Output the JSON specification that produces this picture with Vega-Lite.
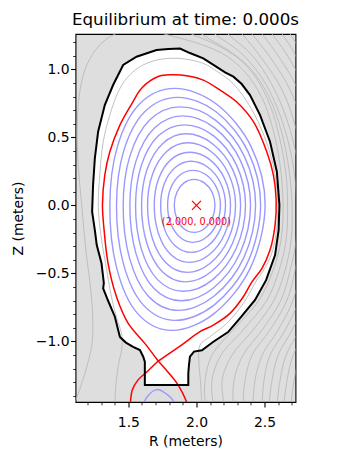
{
"$schema":"https://vega.github.io/schema/vega-lite/v6.json",
"width":220,"height":368,
"autosize":"none",
"padding":{"left":75.5,"top":34,"right":57.5,"bottom":50},
"background":"white",
"title":{"text":"Equilibrium at time: 0.000s","font":"DejaVu Sans","fontSize":16.7,"fontWeight":"normal","color":"black","anchor":"middle","baseline":"alphabetic","offset":-7.5},
"config":{
 "view":{"fill":"#dedede","stroke":"black","strokeWidth":1.1},
 "axis":{"domain":false,"grid":false,"tickColor":"black","labelColor":"black","titleColor":"black","labelFont":"DejaVu Sans","titleFont":"DejaVu Sans","labelFontSize":13.9,"titleFontSize":13.9,"titleFontWeight":"normal","labelOverlap":false,"labelFlush":false}
},
"datasets":{
"wall":[
{"o":0,"R":1.707,"Z":1.142},{"o":1,"R":1.793,"Z":1.149},{"o":2,"R":1.879,"Z":1.153},{"o":3,"R":1.952,"Z":1.120},{"o":4,"R":2.050,"Z":1.081},{"o":5,"R":2.136,"Z":1.026},{"o":6,"R":2.210,"Z":0.978},{"o":7,"R":2.271,"Z":0.946},{"o":8,"R":2.332,"Z":0.892},{"o":9,"R":2.393,"Z":0.811},{"o":10,"R":2.467,"Z":0.664},{"o":11,"R":2.540,"Z":0.468},{"o":12,"R":2.590,"Z":0.247},{"o":13,"R":2.609,"Z":0.002},{"o":14,"R":2.603,"Z":-0.182},{"o":15,"R":2.577,"Z":-0.366},{"o":16,"R":2.511,"Z":-0.550},{"o":17,"R":2.430,"Z":-0.696},{"o":18,"R":2.320,"Z":-0.829},{"o":19,"R":2.232,"Z":-0.932},{"o":20,"R":2.124,"Z":-1.003},{"o":21,"R":2.040,"Z":-1.065},{"o":22,"R":1.982,"Z":-1.075},{"o":23,"R":1.952,"Z":-1.113},{"o":24,"R":1.945,"Z":-1.174},{"o":25,"R":1.940,"Z":-1.235},{"o":26,"R":1.940,"Z":-1.321},{"o":27,"R":1.621,"Z":-1.321},{"o":28,"R":1.621,"Z":-1.233},{"o":29,"R":1.621,"Z":-1.150},{"o":30,"R":1.609,"Z":-1.113},{"o":31,"R":1.585,"Z":-1.064},{"o":32,"R":1.535,"Z":-1.040},{"o":33,"R":1.482,"Z":-1.009},{"o":34,"R":1.438,"Z":-0.968},{"o":35,"R":1.401,"Z":-0.819},{"o":36,"R":1.349,"Z":-0.696},{"o":37,"R":1.315,"Z":-0.610},{"o":38,"R":1.320,"Z":-0.571},{"o":39,"R":1.303,"Z":-0.426},{"o":40,"R":1.268,"Z":-0.292},{"o":41,"R":1.254,"Z":-0.182},{"o":42,"R":1.234,"Z":-0.047},{"o":43,"R":1.241,"Z":0.149},{"o":44,"R":1.254,"Z":0.346},{"o":45,"R":1.278,"Z":0.541},{"o":46,"R":1.327,"Z":0.737},{"o":47,"R":1.388,"Z":0.885},{"o":48,"R":1.462,"Z":1.032},{"o":49,"R":1.560,"Z":1.093}
],
"gray":[
{"g":0,"o":0,"R":1.398,"Z":-1.52},{"g":0,"o":1,"R":1.401,"Z":-1.468},{"g":0,"o":2,"R":1.408,"Z":-1.321},{"g":0,"o":3,"R":1.430,"Z":-1.160},{"g":0,"o":4,"R":1.452,"Z":-1.049},{"g":0,"o":5,"R":1.452,"Z":-0.954},{"g":0,"o":6,"R":1.415,"Z":-0.829},{"g":0,"o":7,"R":1.376,"Z":-0.674},{"g":0,"o":8,"R":1.335,"Z":-0.439},{"g":0,"o":9,"R":1.298,"Z":-0.218},{"g":0,"o":10,"R":1.279,"Z":0.002},{"g":0,"o":11,"R":1.290,"Z":0.223},{"g":0,"o":12,"R":1.315,"Z":0.465},{"g":0,"o":13,"R":1.364,"Z":0.663},{"g":0,"o":14,"R":1.425,"Z":0.833},{"g":0,"o":15,"R":1.487,"Z":0.934},{"g":0,"o":16,"R":1.585,"Z":1.019},{"g":0,"o":17,"R":1.707,"Z":1.068},{"g":0,"o":18,"R":1.866,"Z":1.081},{"g":0,"o":19,"R":2.050,"Z":1.044},{"g":0,"o":20,"R":2.158,"Z":0.980},{"g":0,"o":21,"R":2.268,"Z":0.897},{"g":0,"o":22,"R":2.401,"Z":0.713},{"g":0,"o":23,"R":2.496,"Z":0.513},{"g":0,"o":24,"R":2.563,"Z":0.296},{"g":0,"o":25,"R":2.594,"Z":0.076},{"g":0,"o":26,"R":2.596,"Z":-0.071},{"g":0,"o":27,"R":2.577,"Z":-0.255},{"g":0,"o":28,"R":2.540,"Z":-0.388},{"g":0,"o":29,"R":2.489,"Z":-0.483},{"g":0,"o":30,"R":2.443,"Z":-0.549},{"g":0,"o":31,"R":2.344,"Z":-0.721},{"g":0,"o":32,"R":2.222,"Z":-0.868},{"g":0,"o":33,"R":2.099,"Z":-0.966},{"g":0,"o":34,"R":2.026,"Z":-1.027},{"g":0,"o":35,"R":2.018,"Z":-1.160},{"g":0,"o":36,"R":2.029,"Z":-1.285},{"g":0,"o":37,"R":2.040,"Z":-1.468},{"g":0,"o":38,"R":2.044,"Z":-1.52},
{"g":1,"o":0,"R":1.099,"Z":-1.468},{"g":1,"o":1,"R":1.136,"Z":-1.373},{"g":1,"o":2,"R":1.188,"Z":-1.211},{"g":1,"o":3,"R":1.232,"Z":-1.027},{"g":1,"o":4,"R":1.239,"Z":-0.843},{"g":1,"o":5,"R":1.224,"Z":-0.622},{"g":1,"o":6,"R":1.188,"Z":-0.329},{"g":1,"o":7,"R":1.158,"Z":0.0},{"g":1,"o":8,"R":1.132,"Z":0.296},{"g":1,"o":9,"R":1.125,"Z":0.590},{"g":1,"o":10,"R":1.143,"Z":0.833},{"g":1,"o":11,"R":1.195,"Z":1.032},{"g":1,"o":12,"R":1.290,"Z":1.179},{"g":1,"o":13,"R":1.401,"Z":1.259},{"g":1,"o":14,"R":1.585,"Z":1.311},{"g":1,"o":15,"R":1.768,"Z":1.259},{"g":1,"o":16,"R":2.026,"Z":1.186},{"g":1,"o":17,"R":2.210,"Z":1.105},{"g":1,"o":18,"R":2.357,"Z":0.980},{"g":1,"o":19,"R":2.482,"Z":0.789},{"g":1,"o":20,"R":2.563,"Z":0.554},{"g":1,"o":21,"R":2.614,"Z":0.296},{"g":1,"o":22,"R":2.636,"Z":0.0},{"g":1,"o":23,"R":2.621,"Z":-0.255},{"g":1,"o":24,"R":2.563,"Z":-0.476},{"g":1,"o":25,"R":2.460,"Z":-0.696},{"g":1,"o":26,"R":2.268,"Z":-0.917},{"g":1,"o":27,"R":2.114,"Z":-1.101},{"g":1,"o":28,"R":2.063,"Z":-1.285},{"g":1,"o":29,"R":2.063,"Z":-1.468},{"g":1,"o":30,"R":2.066,"Z":-1.578},
{"g":2,"o":0,"R":1.768,"Z":1.377},{"g":2,"o":1,"R":1.879,"Z":1.304},{"g":2,"o":2,"R":1.967,"Z":1.259},{"g":2,"o":3,"R":2.136,"Z":1.186},{"g":2,"o":4,"R":2.305,"Z":1.083},{"g":2,"o":5,"R":2.438,"Z":0.936},{"g":2,"o":6,"R":2.540,"Z":0.737},{"g":2,"o":7,"R":2.614,"Z":0.480},{"g":2,"o":8,"R":2.658,"Z":0.223},{"g":2,"o":9,"R":2.669,"Z":0.0},{"g":2,"o":10,"R":2.658,"Z":-0.255},{"g":2,"o":11,"R":2.607,"Z":-0.476},{"g":2,"o":12,"R":2.518,"Z":-0.696},{"g":2,"o":13,"R":2.342,"Z":-0.917},{"g":2,"o":14,"R":2.180,"Z":-1.101},{"g":2,"o":15,"R":2.114,"Z":-1.285},{"g":2,"o":16,"R":2.121,"Z":-1.468},{"g":2,"o":17,"R":2.125,"Z":-1.578},
{"g":3,"o":0,"R":1.915,"Z":1.377},{"g":3,"o":1,"R":2.040,"Z":1.259},{"g":3,"o":2,"R":2.232,"Z":1.142},{"g":3,"o":3,"R":2.393,"Z":1.010},{"g":3,"o":4,"R":2.526,"Z":0.811},{"g":3,"o":5,"R":2.621,"Z":0.554},{"g":3,"o":6,"R":2.680,"Z":0.260},{"g":3,"o":7,"R":2.702,"Z":0.0},{"g":3,"o":8,"R":2.695,"Z":-0.255},{"g":3,"o":9,"R":2.651,"Z":-0.476},{"g":3,"o":10,"R":2.570,"Z":-0.696},{"g":3,"o":11,"R":2.415,"Z":-0.917},{"g":3,"o":12,"R":2.261,"Z":-1.101},{"g":3,"o":13,"R":2.188,"Z":-1.285},{"g":3,"o":14,"R":2.202,"Z":-1.468},{"g":3,"o":15,"R":2.210,"Z":-1.578},
{"g":4,"o":0,"R":2.011,"Z":1.377},{"g":4,"o":1,"R":2.136,"Z":1.259},{"g":4,"o":2,"R":2.320,"Z":1.127},{"g":4,"o":3,"R":2.482,"Z":0.936},{"g":4,"o":4,"R":2.599,"Z":0.701},{"g":4,"o":5,"R":2.680,"Z":0.443},{"g":4,"o":6,"R":2.724,"Z":0.186},{"g":4,"o":7,"R":2.735,"Z":0.0},{"g":4,"o":8,"R":2.732,"Z":-0.255},{"g":4,"o":9,"R":2.688,"Z":-0.476},{"g":4,"o":10,"R":2.621,"Z":-0.696},{"g":4,"o":11,"R":2.482,"Z":-0.917},{"g":4,"o":12,"R":2.342,"Z":-1.101},{"g":4,"o":13,"R":2.276,"Z":-1.285},{"g":4,"o":14,"R":2.268,"Z":-1.468},{"g":4,"o":15,"R":2.268,"Z":-1.578},
{"g":5,"o":0,"R":2.114,"Z":1.377},{"g":5,"o":1,"R":2.232,"Z":1.259},{"g":5,"o":2,"R":2.408,"Z":1.105},{"g":5,"o":3,"R":2.555,"Z":0.885},{"g":5,"o":4,"R":2.665,"Z":0.627},{"g":5,"o":5,"R":2.739,"Z":0.333},{"g":5,"o":6,"R":2.768,"Z":0.0},{"g":5,"o":7,"R":2.761,"Z":-0.255},{"g":5,"o":8,"R":2.724,"Z":-0.476},{"g":5,"o":9,"R":2.665,"Z":-0.696},{"g":5,"o":10,"R":2.540,"Z":-0.917},{"g":5,"o":11,"R":2.408,"Z":-1.101},{"g":5,"o":12,"R":2.357,"Z":-1.285},{"g":5,"o":13,"R":2.342,"Z":-1.468},{"g":5,"o":14,"R":2.342,"Z":-1.578},
{"g":6,"o":0,"R":2.217,"Z":1.377},{"g":6,"o":1,"R":2.335,"Z":1.259},{"g":6,"o":2,"R":2.489,"Z":1.068},{"g":6,"o":3,"R":2.629,"Z":0.848},{"g":6,"o":4,"R":2.724,"Z":0.590},{"g":6,"o":5,"R":2.783,"Z":0.296},{"g":6,"o":6,"R":2.801,"Z":0.0},{"g":6,"o":7,"R":2.798,"Z":-0.255},{"g":6,"o":8,"R":2.761,"Z":-0.476},{"g":6,"o":9,"R":2.710,"Z":-0.696},{"g":6,"o":10,"R":2.599,"Z":-0.917},{"g":6,"o":11,"R":2.482,"Z":-1.101},{"g":6,"o":12,"R":2.430,"Z":-1.285},{"g":6,"o":13,"R":2.415,"Z":-1.468},{"g":6,"o":14,"R":2.415,"Z":-1.578},
{"g":7,"o":0,"R":2.298,"Z":1.377},{"g":7,"o":1,"R":2.408,"Z":1.259},{"g":7,"o":2,"R":2.555,"Z":1.068},{"g":7,"o":3,"R":2.688,"Z":0.848},{"g":7,"o":4,"R":2.783,"Z":0.568},{"g":7,"o":5,"R":2.835,"Z":0.0},{"g":7,"o":6,"R":2.827,"Z":-0.255},{"g":7,"o":7,"R":2.798,"Z":-0.476},{"g":7,"o":8,"R":2.754,"Z":-0.696},{"g":7,"o":9,"R":2.651,"Z":-0.917},{"g":7,"o":10,"R":2.540,"Z":-1.101},{"g":7,"o":11,"R":2.496,"Z":-1.285},{"g":7,"o":12,"R":2.482,"Z":-1.468},{"g":7,"o":13,"R":2.482,"Z":-1.578},
{"g":8,"o":0,"R":2.379,"Z":1.377},{"g":8,"o":1,"R":2.482,"Z":1.259},{"g":8,"o":2,"R":2.621,"Z":1.068},{"g":8,"o":3,"R":2.739,"Z":0.862},{"g":8,"o":4,"R":2.835,"Z":0.554},{"g":8,"o":5,"R":2.868,"Z":0.0},{"g":8,"o":6,"R":2.864,"Z":-0.255},{"g":8,"o":7,"R":2.835,"Z":-0.476},{"g":8,"o":8,"R":2.798,"Z":-0.696},{"g":8,"o":9,"R":2.702,"Z":-0.917},{"g":8,"o":10,"R":2.599,"Z":-1.101},{"g":8,"o":11,"R":2.555,"Z":-1.285},{"g":8,"o":12,"R":2.533,"Z":-1.468},{"g":8,"o":13,"R":2.533,"Z":-1.578},
{"g":9,"o":0,"R":2.452,"Z":1.377},{"g":9,"o":1,"R":2.555,"Z":1.259},{"g":9,"o":2,"R":2.688,"Z":1.068},{"g":9,"o":3,"R":2.790,"Z":0.848},{"g":9,"o":4,"R":2.901,"Z":0.0},{"g":9,"o":5,"R":2.893,"Z":-0.255},{"g":9,"o":6,"R":2.864,"Z":-0.476},{"g":9,"o":7,"R":2.842,"Z":-0.696},{"g":9,"o":8,"R":2.754,"Z":-0.917},{"g":9,"o":9,"R":2.658,"Z":-1.101},{"g":9,"o":10,"R":2.614,"Z":-1.285},{"g":9,"o":11,"R":2.592,"Z":-1.468},{"g":9,"o":12,"R":2.592,"Z":-1.578},
{"g":10,"o":0,"R":2.526,"Z":1.377},{"g":10,"o":1,"R":2.629,"Z":1.259},{"g":10,"o":2,"R":2.746,"Z":1.068},{"g":10,"o":3,"R":2.849,"Z":0.811},{"g":10,"o":4,"R":2.934,"Z":0.0},{"g":10,"o":5,"R":2.930,"Z":-0.255},{"g":10,"o":6,"R":2.893,"Z":-0.476},{"g":10,"o":7,"R":2.886,"Z":-0.696},{"g":10,"o":8,"R":2.805,"Z":-0.917},{"g":10,"o":9,"R":2.710,"Z":-1.101},{"g":10,"o":10,"R":2.665,"Z":-1.285},{"g":10,"o":11,"R":2.643,"Z":-1.468},{"g":10,"o":12,"R":2.643,"Z":-1.578},
{"g":11,"o":0,"R":2.592,"Z":1.377},{"g":11,"o":1,"R":2.688,"Z":1.259},{"g":11,"o":2,"R":2.798,"Z":1.068},{"g":11,"o":3,"R":2.893,"Z":0.848},{"g":11,"o":4,"R":2.967,"Z":0.0},{"g":11,"o":5,"R":2.960,"Z":-0.255},{"g":11,"o":6,"R":2.923,"Z":-0.476},{"g":11,"o":7,"R":2.923,"Z":-0.696},{"g":11,"o":8,"R":2.857,"Z":-0.917},{"g":11,"o":9,"R":2.761,"Z":-1.101},{"g":11,"o":10,"R":2.717,"Z":-1.285},{"g":11,"o":11,"R":2.695,"Z":-1.468},{"g":11,"o":12,"R":2.695,"Z":-1.578}
],
"blue":[
{"c":0,"o":0,"R":2.504,"Z":0},{"c":0,"o":1,"R":2.402,"Z":0.430},{"c":0,"o":2,"R":2.146,"Z":0.745},{"c":0,"o":3,"R":1.840,"Z":0.860},{"c":0,"o":4,"R":1.582,"Z":0.745},{"c":0,"o":5,"R":1.419,"Z":0.430},{"c":0,"o":6,"R":1.364,"Z":0},{"c":0,"o":7,"R":1.414,"Z":-0.460},{"c":0,"o":8,"R":1.568,"Z":-0.796},{"c":0,"o":9,"R":1.821,"Z":-0.919},{"c":0,"o":10,"R":2.129,"Z":-0.796},{"c":0,"o":11,"R":2.396,"Z":-0.460},
{"c":1,"o":0,"R":2.471,"Z":0},{"c":1,"o":1,"R":2.378,"Z":0.397},{"c":1,"o":2,"R":2.144,"Z":0.688},{"c":1,"o":3,"R":1.862,"Z":0.794},{"c":1,"o":4,"R":1.620,"Z":0.688},{"c":1,"o":5,"R":1.465,"Z":0.397},{"c":1,"o":6,"R":1.413,"Z":0},{"c":1,"o":7,"R":1.462,"Z":-0.423},{"c":1,"o":8,"R":1.609,"Z":-0.732},{"c":1,"o":9,"R":1.846,"Z":-0.846},{"c":1,"o":10,"R":2.131,"Z":-0.732},{"c":1,"o":11,"R":2.374,"Z":-0.423},
{"c":2,"o":0,"R":2.434,"Z":0},{"c":2,"o":1,"R":2.351,"Z":0.362},{"c":2,"o":2,"R":2.139,"Z":0.627},{"c":2,"o":3,"R":1.881,"Z":0.724},{"c":2,"o":4,"R":1.656,"Z":0.627},{"c":2,"o":5,"R":1.511,"Z":0.362},{"c":2,"o":6,"R":1.462,"Z":0},{"c":2,"o":7,"R":1.508,"Z":-0.386},{"c":2,"o":8,"R":1.647,"Z":-0.668},{"c":2,"o":9,"R":1.867,"Z":-0.772},{"c":2,"o":10,"R":2.128,"Z":-0.668},{"c":2,"o":11,"R":2.347,"Z":-0.386},
{"c":3,"o":0,"R":2.397,"Z":0},{"c":3,"o":1,"R":2.323,"Z":0.329},{"c":3,"o":2,"R":2.133,"Z":0.570},{"c":3,"o":3,"R":1.899,"Z":0.658},{"c":3,"o":4,"R":1.693,"Z":0.570},{"c":3,"o":5,"R":1.557,"Z":0.329},{"c":3,"o":6,"R":1.511,"Z":0},{"c":3,"o":7,"R":1.555,"Z":-0.351},{"c":3,"o":8,"R":1.685,"Z":-0.608},{"c":3,"o":9,"R":1.888,"Z":-0.702},{"c":3,"o":10,"R":2.124,"Z":-0.608},{"c":3,"o":11,"R":2.320,"Z":-0.351},
{"c":4,"o":0,"R":2.360,"Z":0},{"c":4,"o":1,"R":2.294,"Z":0.296},{"c":4,"o":2,"R":2.124,"Z":0.513},{"c":4,"o":3,"R":1.912,"Z":0.592},{"c":4,"o":4,"R":1.722,"Z":0.513},{"c":4,"o":5,"R":1.596,"Z":0.296},{"c":4,"o":6,"R":1.553,"Z":0},{"c":4,"o":7,"R":1.594,"Z":-0.316},{"c":4,"o":8,"R":1.716,"Z":-0.548},{"c":4,"o":9,"R":1.904,"Z":-0.632},{"c":4,"o":10,"R":2.117,"Z":-0.548},{"c":4,"o":11,"R":2.292,"Z":-0.316},
{"c":5,"o":0,"R":2.324,"Z":0},{"c":5,"o":1,"R":2.266,"Z":0.263},{"c":5,"o":2,"R":2.115,"Z":0.455},{"c":5,"o":3,"R":1.925,"Z":0.526},{"c":5,"o":4,"R":1.753,"Z":0.455},{"c":5,"o":5,"R":1.637,"Z":0.263},{"c":5,"o":6,"R":1.597,"Z":0},{"c":5,"o":7,"R":1.636,"Z":-0.281},{"c":5,"o":8,"R":1.748,"Z":-0.487},{"c":5,"o":9,"R":1.919,"Z":-0.563},{"c":5,"o":10,"R":2.110,"Z":-0.487},{"c":5,"o":11,"R":2.264,"Z":-0.281},
{"c":6,"o":0,"R":2.287,"Z":0},{"c":6,"o":1,"R":2.236,"Z":0.230},{"c":6,"o":2,"R":2.105,"Z":0.398},{"c":6,"o":3,"R":1.937,"Z":0.460},{"c":6,"o":4,"R":1.783,"Z":0.398},{"c":6,"o":5,"R":1.678,"Z":0.230},{"c":6,"o":6,"R":1.641,"Z":0},{"c":6,"o":7,"R":1.677,"Z":-0.246},{"c":6,"o":8,"R":1.779,"Z":-0.426},{"c":6,"o":9,"R":1.932,"Z":-0.493},{"c":6,"o":10,"R":2.101,"Z":-0.426},{"c":6,"o":11,"R":2.235,"Z":-0.246},
{"c":7,"o":0,"R":2.250,"Z":0},{"c":7,"o":1,"R":2.207,"Z":0.195},{"c":7,"o":2,"R":2.095,"Z":0.338},{"c":7,"o":3,"R":1.950,"Z":0.390},{"c":7,"o":4,"R":1.815,"Z":0.338},{"c":7,"o":5,"R":1.722,"Z":0.195},{"c":7,"o":6,"R":1.690,"Z":0},{"c":7,"o":7,"R":1.722,"Z":-0.210},{"c":7,"o":8,"R":1.813,"Z":-0.363},{"c":7,"o":9,"R":1.947,"Z":-0.419},{"c":7,"o":10,"R":2.093,"Z":-0.363},{"c":7,"o":11,"R":2.207,"Z":-0.210},
{"c":8,"o":0,"R":2.213,"Z":0},{"c":8,"o":1,"R":2.178,"Z":0.162},{"c":8,"o":2,"R":2.084,"Z":0.280},{"c":8,"o":3,"R":1.961,"Z":0.324},{"c":8,"o":4,"R":1.846,"Z":0.280},{"c":8,"o":5,"R":1.765,"Z":0.162},{"c":8,"o":6,"R":1.737,"Z":0},{"c":8,"o":7,"R":1.765,"Z":-0.173},{"c":8,"o":8,"R":1.845,"Z":-0.299},{"c":8,"o":9,"R":1.960,"Z":-0.346},{"c":8,"o":10,"R":2.083,"Z":-0.299},{"c":8,"o":11,"R":2.177,"Z":-0.173},
{"c":9,"o":0,"R":2.176,"Z":0},{"c":9,"o":1,"R":2.148,"Z":0.129},{"c":9,"o":2,"R":2.073,"Z":0.223},{"c":9,"o":3,"R":1.974,"Z":0.257},{"c":9,"o":4,"R":1.879,"Z":0.223},{"c":9,"o":5,"R":1.812,"Z":0.129},{"c":9,"o":6,"R":1.788,"Z":0},{"c":9,"o":7,"R":1.812,"Z":-0.136},{"c":9,"o":8,"R":1.879,"Z":-0.235},{"c":9,"o":9,"R":1.973,"Z":-0.272},{"c":9,"o":10,"R":2.073,"Z":-0.235},{"c":9,"o":11,"R":2.148,"Z":-0.136},
{"c":10,"o":0,"R":2.136,"Z":0},{"c":10,"o":1,"R":2.115,"Z":0.096},{"c":10,"o":2,"R":2.058,"Z":0.165},{"c":10,"o":3,"R":1.982,"Z":0.191},{"c":10,"o":4,"R":1.908,"Z":0.165},{"c":10,"o":5,"R":1.856,"Z":0.096},{"c":10,"o":6,"R":1.837,"Z":0},{"c":10,"o":7,"R":1.856,"Z":-0.099},{"c":10,"o":8,"R":1.908,"Z":-0.172},{"c":10,"o":9,"R":1.982,"Z":-0.199},{"c":10,"o":10,"R":2.058,"Z":-0.172},{"c":10,"o":11,"R":2.115,"Z":-0.099}
],
"pfr":[
{"o":0,"R":1.592,"Z":-1.490},{"o":1,"R":1.609,"Z":-1.456},{"o":2,"R":1.643,"Z":-1.402},{"o":3,"R":1.682,"Z":-1.365},{"o":4,"R":1.721,"Z":-1.354},{"o":5,"R":1.756,"Z":-1.371},{"o":6,"R":1.805,"Z":-1.407},{"o":7,"R":1.842,"Z":-1.456},{"o":8,"R":1.857,"Z":-1.490}
],
"sep":[
{"s":"core","o":0,"R":1.719,"Z":-1.145},{"s":"core","o":1,"R":1.621,"Z":-1.015},{"s":"core","o":2,"R":1.499,"Z":-0.868},{"s":"core","o":3,"R":1.413,"Z":-0.672},{"s":"core","o":4,"R":1.351,"Z":-0.426},{"s":"core","o":5,"R":1.322,"Z":-0.182},{"s":"core","o":6,"R":1.310,"Z":0.0},{"s":"core","o":7,"R":1.327,"Z":0.223},{"s":"core","o":8,"R":1.364,"Z":0.394},{"s":"core","o":9,"R":1.438,"Z":0.590},{"s":"core","o":10,"R":1.524,"Z":0.745},{"s":"core","o":11,"R":1.599,"Z":0.863},{"s":"core","o":12,"R":1.719,"Z":0.947},{"s":"core","o":13,"R":1.818,"Z":0.960},{"s":"core","o":14,"R":1.940,"Z":0.951},{"s":"core","o":15,"R":2.050,"Z":0.921},{"s":"core","o":16,"R":2.185,"Z":0.840},{"s":"core","o":17,"R":2.296,"Z":0.760},{"s":"core","o":18,"R":2.418,"Z":0.615},{"s":"core","o":19,"R":2.516,"Z":0.394},{"s":"core","o":20,"R":2.565,"Z":0.223},{"s":"core","o":21,"R":2.585,"Z":0.039},{"s":"core","o":22,"R":2.577,"Z":-0.145},{"s":"core","o":23,"R":2.540,"Z":-0.329},{"s":"core","o":24,"R":2.482,"Z":-0.461},{"s":"core","o":25,"R":2.406,"Z":-0.564},{"s":"core","o":26,"R":2.344,"Z":-0.672},{"s":"core","o":27,"R":2.246,"Z":-0.794},{"s":"core","o":28,"R":2.124,"Z":-0.880},{"s":"core","o":29,"R":2.026,"Z":-0.929},{"s":"core","o":30,"R":1.879,"Z":-1.035},{"s":"core","o":31,"R":1.719,"Z":-1.145},
{"s":"legL","o":0,"R":1.719,"Z":-1.145},{"s":"legL","o":1,"R":1.643,"Z":-1.218},{"s":"legL","o":2,"R":1.570,"Z":-1.285},{"s":"legL","o":3,"R":1.529,"Z":-1.358},{"s":"legL","o":4,"R":1.515,"Z":-1.454},{"s":"legL","o":5,"R":1.513,"Z":-1.49},
{"s":"legR","o":0,"R":1.719,"Z":-1.145},{"s":"legR","o":1,"R":1.790,"Z":-1.225},{"s":"legR","o":2,"R":1.866,"Z":-1.322},{"s":"legR","o":3,"R":1.928,"Z":-1.446},{"s":"legR","o":4,"R":1.937,"Z":-1.475}
],
"axis":[{"R":2.0,"Z":0.0,"label":"(2.000, 0.000)"}]
},
"encoding":{
  "x":{"field":"R","type":"quantitative","scale":{"domain":[1.112,2.727],"nice":false,"zero":false},
   "axis":{"title":"R (meters)","values":[1.2,1.3,1.4,1.5,1.6,1.7,1.8,1.9,2.0,2.1,2.2,2.3,2.4,2.5,2.6,2.7],
    "labelExpr":"abs(datum.value*2-round(datum.value*2))<0.001 ? format(datum.value,'.1f') : ''",
    "tickSize":{"condition":{"test":"abs(datum.value*2-round(datum.value*2))<0.001","value":4.9},"value":2.8},
    "tickWidth":{"condition":{"test":"abs(datum.value*2-round(datum.value*2))<0.001","value":1.1},"value":0.8},
    "labelOverlap":false,"labelPadding":8.5,"titlePadding":5}},
  "y":{"field":"Z","type":"quantitative","scale":{"domain":[-1.446,1.26],"nice":false,"zero":false},
   "axis":{"title":"Z (meters)","values":[-1.4,-1.3,-1.2,-1.1,-1.0,-0.9,-0.8,-0.7,-0.6,-0.5,-0.4,-0.3,-0.2,-0.1,0,0.1,0.2,0.3,0.4,0.5,0.6,0.7,0.8,0.9,1.0,1.1,1.2],
    "labelExpr":"abs(datum.value*2-round(datum.value*2))<0.001 ? format(datum.value,'.1f') : ''",
    "tickSize":{"condition":{"test":"abs(datum.value*2-round(datum.value*2))<0.001","value":4.9},"value":2.8},
    "tickWidth":{"condition":{"test":"abs(datum.value*2-round(datum.value*2))<0.001","value":1.1},"value":0.8},
    "labelOverlap":false,"labelPadding":1.5,"titlePadding":9.5}}
},
"layer":[
{"data":{"name":"wall"},
 "mark":{"type":"line","interpolate":"linear-closed","fill":"white","strokeOpacity":0},
 "encoding":{"order":{"field":"o","type":"quantitative"}}},
{"data":{"name":"gray"},
 "mark":{"type":"line","interpolate":"catmull-rom","stroke":"#bababa","strokeWidth":0.9,"clip":true},
 "encoding":{"detail":{"field":"g","type":"nominal"},"order":{"field":"o","type":"quantitative"}}},
{"data":{"name":"blue"},
 "mark":{"type":"line","interpolate":"cardinal-closed","stroke":"#9999ff","strokeWidth":1.4,"clip":true},
 "encoding":{"detail":{"field":"c","type":"nominal"},"order":{"field":"o","type":"quantitative"}}},
{"data":{"name":"pfr"},
 "mark":{"type":"line","interpolate":"catmull-rom","stroke":"#9999ff","strokeWidth":1.4,"clip":true},
 "encoding":{"order":{"field":"o","type":"quantitative"}}},
{"data":{"name":"sep"},
 "mark":{"type":"line","interpolate":"catmull-rom","stroke":"#ff0000","strokeWidth":1.5,"clip":true},
 "encoding":{"detail":{"field":"s","type":"nominal"},"order":{"field":"o","type":"quantitative"}}},
{"data":{"name":"wall"},
 "mark":{"type":"line","interpolate":"linear-closed","stroke":"black","strokeWidth":2,"clip":true},
 "encoding":{"order":{"field":"o","type":"quantitative"}}},
{"data":{"name":"axis"},
 "mark":{"type":"point","shape":"M-1,-1L1,1M1,-1L-1,1","size":81,"filled":false,"stroke":"#ff0000","strokeWidth":1.3,"opacity":1}},
{"data":{"name":"axis"},
 "mark":{"type":"text","font":"DejaVu Sans","fontSize":9.7,"color":"#ff0000","align":"center","baseline":"middle","dy":16.5},
 "encoding":{"text":{"field":"label","type":"nominal"}}}
]
}
